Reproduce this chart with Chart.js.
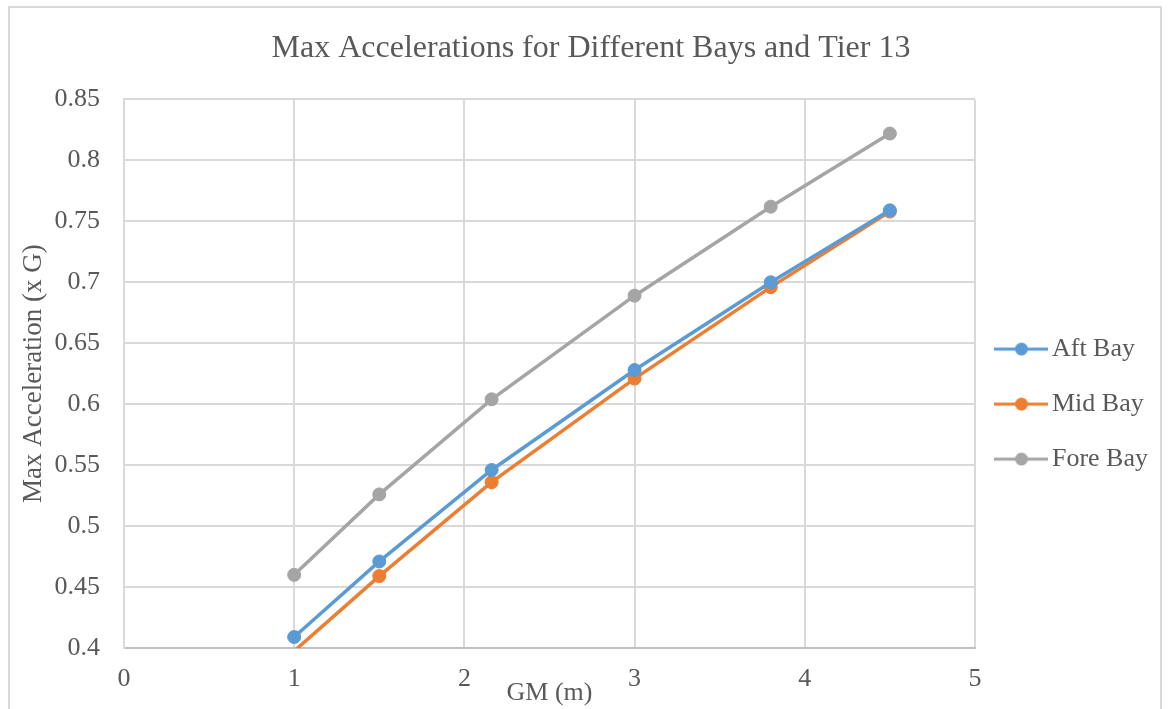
<!DOCTYPE html>
<html>
<head>
<meta charset="utf-8">
<script src="https://cdn.jsdelivr.net/npm/chart.js@4.4.1/dist/chart.umd.min.js"></script>
<style>
html,body{margin:0;padding:0;background:#fff;}
#wrap{position:relative;width:1169px;height:709px;}
</style>
</head>
<body>
<div id="wrap"><canvas id="c" width="1169" height="709"></canvas></div>
<script>
// ---- data ----
const gm = [1, 1.5, 2.16, 3, 3.8, 4.5];
const aftBay = [0.409, 0.471, 0.546, 0.628, 0.700, 0.759];
const midBay = [0.3975, 0.459, 0.536, 0.621, 0.696, 0.758];
const foreBay = [0.460, 0.526, 0.604, 0.689, 0.762, 0.822];
const seriesNames = ['Aft Bay', 'Mid Bay', 'Fore Bay'];
const xTicks = [0, 1, 2, 3, 4, 5];
const yTicks = [0.4, 0.45, 0.5, 0.55, 0.6, 0.65, 0.7, 0.75, 0.8, 0.85];
const titleText = 'Max Accelerations for Different Bays and Tier 13';
const xTitle = 'GM (m)';
const yTitle = 'Max Acceleration (x G)';

// ---- styles ----
const colors = ['#5B9BD5', '#ED7D31', '#A5A5A5'];
const FONT = "'Liberation Serif', 'Times New Roman', serif";
const TEXT = '#595959';
const GRID = '#D9D9D9';
const Y_MIN = yTicks[0], Y_MAX = yTicks[yTicks.length - 1];

function legendMarker(color) {
  const c = document.createElement('canvas');
  c.width = 54; c.height = 14;
  const g = c.getContext('2d');
  g.strokeStyle = color; g.lineWidth = 3;
  g.beginPath(); g.moveTo(0, 7); g.lineTo(54, 7); g.stroke();
  g.fillStyle = color;
  g.beginPath(); g.arc(27, 7, 6.5, 0, Math.PI * 2); g.fill();
  return c;
}
const markers = colors.map(legendMarker);

function makeSet(label, ys, color) {
  return {
    label: label,
    data: gm.map((x, i) => ({x: x, y: ys[i]})),
    showLine: true,
    borderColor: color,
    backgroundColor: color,
    borderWidth: 3.5,
    tension: 0,
    pointRadius: ctx => (ctx.raw && ctx.raw.y < Y_MIN) ? 0 : 6.5,
    pointBorderWidth: 1,
    pointBorderColor: color,
    pointBackgroundColor: color,
    clip: 0
  };
}

const bgPlugin = {
  id: 'bg',
  beforeDraw(chart) {
    const ctx = chart.ctx;
    ctx.save();
    ctx.fillStyle = '#fff';
    ctx.fillRect(0, 0, chart.width, chart.height);
    ctx.strokeStyle = GRID;
    ctx.lineWidth = 2;
    ctx.strokeRect(9, 7, 1152, 720);
    ctx.restore();
  }
};

const L = 24;

new Chart(document.getElementById('c'), {
  type: 'scatter',
  data: {
    datasets: [
      makeSet(seriesNames[0], aftBay, colors[0]),
      makeSet(seriesNames[1], midBay, colors[1]),
      makeSet(seriesNames[2], foreBay, colors[2])
    ]
  },
  options: {
    responsive: false,
    animation: false,
    events: [],
    layout: {padding: {left: L, right: 11, top: 0, bottom: 0}},
    scales: {
      x: {
        type: 'linear',
        min: 0, max: 5,
        afterBuildTicks: s => { s.ticks = xTicks.map(v => ({value: v})); },
        afterFit: s => { s.height = 61; },
        grid: {color: GRID, lineWidth: 2, drawTicks: false},
        border: {display: true, color: '#BFBFBF', width: 2},
        ticks: {color: TEXT, font: {family: FONT, size: 26}, padding: 16, callback: v => String(v)},
        title: {display: true, text: xTitle, color: TEXT, font: {family: FONT, size: 26}, padding: {top: 0, bottom: 0}}
      },
      y: {
        type: 'linear',
        min: Y_MIN, max: Y_MAX,
        afterBuildTicks: s => { s.ticks = yTicks.map(v => ({value: v})); },
        afterFit: s => { s.width = 124 - L; },
        grid: {color: GRID, lineWidth: 2, drawTicks: false},
        border: {display: true, color: GRID, width: 2},
        ticks: {color: TEXT, font: {family: FONT, size: 26}, padding: 24, callback: v => String(v)},
        title: {display: true, text: yTitle, color: TEXT, font: {family: FONT, size: 27}, padding: {top: 34 - 16.2 - L, bottom: 0}}
      }
    },
    plugins: {
      tooltip: {enabled: false},
      title: {
        display: true,
        text: titleText,
        color: TEXT,
        font: {family: FONT, size: 32, weight: 'normal'},
        padding: {top: 29, bottom: 32}
      },
      legend: {
        display: true,
        position: 'right',
        align: 'center',
        title: {display: true, text: '', font: {family: FONT, size: 26}, padding: {top: 68, bottom: 0}},
        labels: {
          color: TEXT,
          font: {family: FONT, size: 26},
          usePointStyle: true,
          pointStyleWidth: 35,
          boxHeight: 14,
          padding: 29,
          generateLabels: chart => chart.data.datasets.map((ds, i) => ({
            text: ds.label,
            fillStyle: ds.borderColor,
            strokeStyle: ds.borderColor,
            fontColor: TEXT,
            lineWidth: 0,
            pointStyle: markers[i],
            hidden: false,
            datasetIndex: i
          }))
        }
      }
    }
  },
  plugins: [bgPlugin]
});
</script>
</body>
</html>
